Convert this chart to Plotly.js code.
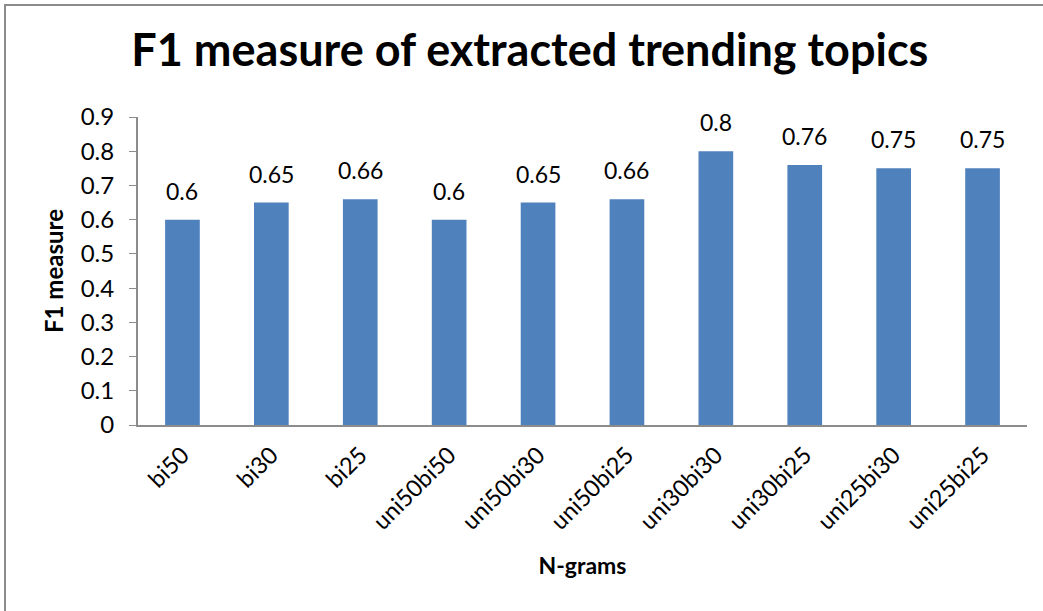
<!DOCTYPE html>
<html>
<head>
<meta charset="utf-8">
<script src="https://cdn.plot.ly/plotly-3.0.1.min.js"></script>
<style>
  html, body { margin: 0; padding: 0; background: #ffffff; }
  #wrap { position: relative; width: 1043px; height: 611px; overflow: hidden; }
  #chart { width: 1043px; height: 611px; }
  #frame {
    position: absolute; left: 4px; top: 4px; right: -10px; bottom: -10px;
    border-left: 2px solid #8c8c8c; border-top: 2px solid #8c8c8c;
    pointer-events: none;
  }
</style>
</head>
<body>
<div id="wrap">
  <div id="chart"></div>
  <div id="frame"></div>
</div>
<script>
// N-gram configurations and their F1 scores
const categories = ['bi50', 'bi30', 'bi25', 'uni50bi50', 'uni50bi30', 'uni50bi25',
                    'uni30bi30', 'uni30bi25', 'uni25bi30', 'uni25bi25'];
const f1Values = [0.6, 0.65, 0.66, 0.6, 0.65, 0.66, 0.8, 0.76, 0.75, 0.75];
const yTickValues = [0, 0.1, 0.2, 0.3, 0.4, 0.5, 0.6, 0.7, 0.8, 0.9];
const yTickLabels = ['0', '0.1', '0.2', '0.3', '0.4', '0.5', '0.6', '0.7', '0.8', '0.9'];

const FONT = 'Lato, Carlito, Calibri, "Open Sans", sans-serif';

const trace = {
  type: 'bar',
  x: categories,
  y: f1Values,
  width: 0.39,
  marker: { color: '#4f81bd', line: { width: 0 } },
  hoverinfo: 'x+y'
};

// Value labels above each bar
const valueLabels = categories.map((c, i) => ({
  x: c,
  y: f1Values[i],
  xref: 'x',
  yref: 'y',
  text: String(f1Values[i]),
  showarrow: false,
  yanchor: 'bottom',
  yshift: 13,
  font: { family: FONT, size: 23, color: '#000000' }
}));

const layout = {
  width: 1043,
  height: 611,
  margin: { l: 138, r: 16, t: 117, b: 186 },
  paper_bgcolor: '#ffffff',
  plot_bgcolor: '#ffffff',
  showlegend: false,
  title: {
    text: '<b>F1 measure of extracted trending topics</b>',
    font: { family: FONT, size: 45, color: '#000000' },
    x: 0.508,
    xanchor: 'center',
    y: 0.918,
    yanchor: 'middle'
  },
  xaxis: {
    type: 'category',
    tickangle: -45,
    tickfont: { family: FONT, size: 23.5, color: '#000000' },
    ticklabelstandoff: 5,
    showline: true,
    linecolor: '#8c8c8c',
    linewidth: 2,
    ticks: '',
    showgrid: false,
    zeroline: false,
    title: {
      text: '<b>N-grams</b>',
      font: { family: FONT, size: 23, color: '#000000' },
      standoff: 24
    }
  },
  yaxis: {
    range: [0, 0.9],
    tickvals: yTickValues,
    ticktext: yTickLabels,
    tickfont: { family: FONT, size: 24, color: '#000000' },
    ticklabelstandoff: 10,
    showline: true,
    linecolor: '#8c8c8c',
    linewidth: 2,
    ticks: 'outside',
    ticklen: 7,
    tickcolor: '#8c8c8c',
    tickwidth: 1,
    showgrid: false,
    zeroline: false,
    title: {
      text: '<b>F1 measure</b>',
      font: { family: FONT, size: 24, color: '#000000' },
      standoff: 10
    }
  },
  annotations: valueLabels
};

Plotly.newPlot('chart', [trace], layout, { displayModeBar: false, staticPlot: true });
</script>
</body>
</html>
